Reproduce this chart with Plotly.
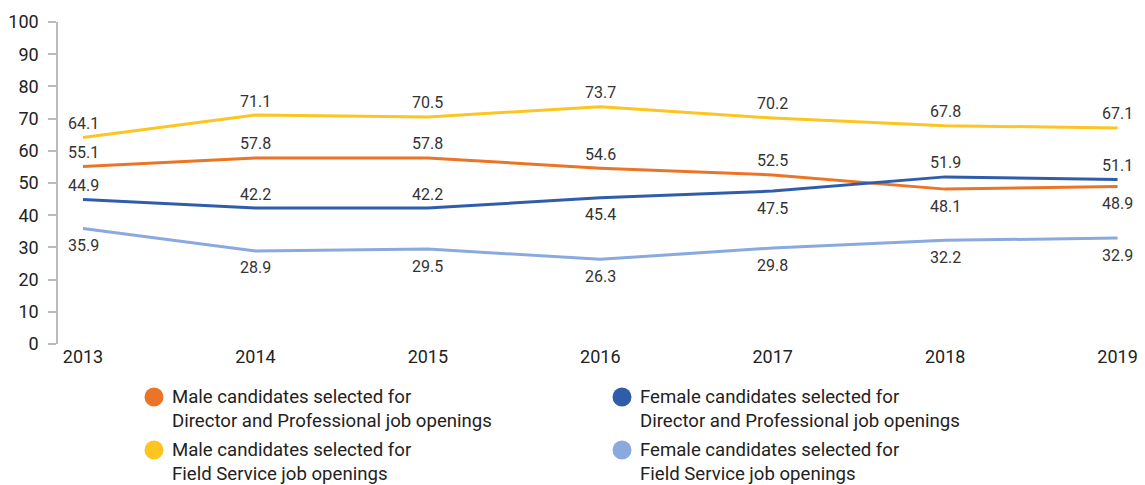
import plotly.graph_objects as go

years = ["2013", "2014", "2015", "2016", "2017", "2018", "2019"]
male_dp = [55.1, 57.8, 57.8, 54.6, 52.5, 48.1, 48.9]
female_dp = [44.9, 42.2, 42.2, 45.4, 47.5, 51.9, 51.1]
male_fs = [64.1, 71.1, 70.5, 73.7, 70.2, 67.8, 67.1]
female_fs = [35.9, 28.9, 29.5, 26.3, 29.8, 32.2, 32.9]

names = [
    "Male candidates selected for<br>Director and Professional job openings",
    "Female candidates selected for<br>Director and Professional job openings",
    "Male candidates selected for<br>Field Service job openings",
    "Female candidates selected for<br>Field Service job openings",
]
series = [male_dp, female_dp, male_fs, female_fs]
colors = ["#EC7426", "#2F5DAA", "#FDC521", "#8AA9DE"]
# legend grid slot (column, row) for each series
legend_slot = [(0, 0), (1, 0), (0, 1), (1, 1)]
# label placement: 1 = above, -1 = below
label_pos = [
    [1, 1, 1, 1, 1, -1, -1],
    [1, 1, 1, -1, -1, 1, 1],
    [1, 1, 1, 1, 1, 1, 1],
    [-1, -1, -1, -1, -1, -1, -1],
]

W, H = 1145, 485
ML, MR, MT, MB = 58, 5, 22, 141
PW, PH = W - ML - MR, H - MT - MB


def px_x(px):
    return (px - ML) / PW


def px_y(py):
    return (H - MB - py) / PH


xi = list(range(len(years)))
fig = go.Figure()
for name, ys, c in zip(names, series, colors):
    fig.add_trace(go.Scatter(x=xi, y=ys, mode="lines", line=dict(color=c, width=3),
                             name=name.replace("<br>", " "), showlegend=False,
                             hoverinfo="skip"))

annotations = []
for ys, pos in zip(series, label_pos):
    for x, y, p in zip(xi, ys, pos):
        annotations.append(dict(x=x, y=y, text=f"{y:.1f}", showarrow=False,
                                yshift=14 if p > 0 else -17,
                                font=dict(size=16, color="#333333", family="Roboto")))

# custom 2x2 legend
col_circle = [154, 622]
col_text = [170, 638]
row_y = [397, 450]
shapes = []
for name, c, (col, row) in zip(names, colors, legend_slot):
    shapes.append(dict(type="circle", xref="paper", yref="paper",
                       xsizemode="pixel", ysizemode="pixel",
                       xanchor=px_x(col_circle[col]), yanchor=px_y(row_y[row]),
                       x0=-9.5, x1=9.5, y0=-9.5, y1=9.5,
                       fillcolor=c, line=dict(width=0)))
    annotations.append(dict(xref="paper", yref="paper", x=px_x(col_text[col]),
                            y=px_y(row_y[row] - 13), xanchor="left", yanchor="top",
                            align="left", showarrow=False, text=name,
                            font=dict(size=18.6, color="#222222", family="Roboto")))

fig.update_layout(
    width=W, height=H,
    margin=dict(l=ML, r=MR, t=MT, b=MB),
    paper_bgcolor="white", plot_bgcolor="white",
    font=dict(family="Roboto", color="#222222"),
    annotations=annotations, shapes=shapes, showlegend=False,
    xaxis=dict(range=[-0.145, 6.13], tickmode="array", tickvals=xi, ticktext=years,
               showgrid=False, zeroline=False, showline=False, ticks="",
               tickfont=dict(size=18, color="#222222")),
    yaxis=dict(range=[0, 100], dtick=10, showgrid=False, zeroline=False,
               showline=True, linecolor="#BBBBBB", linewidth=1.5,
               ticks="outside", ticklen=8, tickcolor="#BBBBBB", tickwidth=1.5,
               ticklabelstandoff=6,
               tickfont=dict(size=18, color="#222222")),
)
fig.write_html("out.html", config={"displayModeBar": False},
               post_script="document.body.style.margin='0';")
